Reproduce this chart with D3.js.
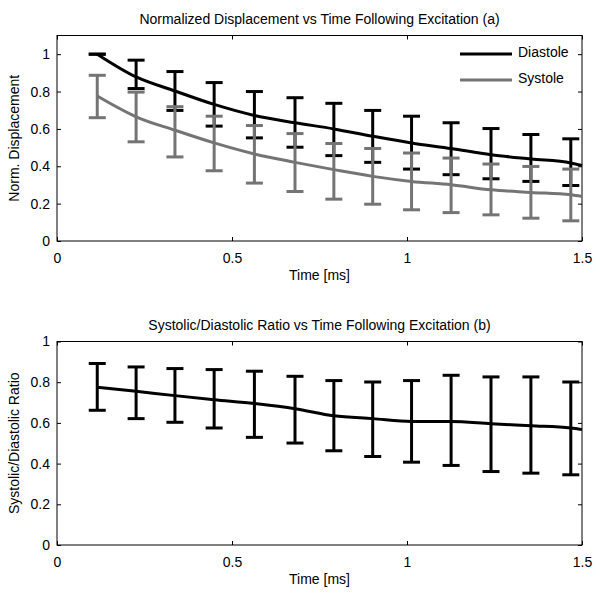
<!DOCTYPE html>
<html><head><meta charset="utf-8">
<script src="https://cdn.jsdelivr.net/npm/d3@7"></script>
<style>
body{margin:0;background:#fff;}
text{font-family:"Liberation Sans",Arial,sans-serif;}
</style></head>
<body><svg id="c" width="601" height="596"></svg>
<script>
// ---- data ----
const times = [0.115,0.226,0.337,0.449,0.564,0.68,0.791,0.902,1.013,1.126,1.24,1.354,1.468];
const curveTimes = [0.115,0.226,0.337,0.449,0.564,0.68,0.791,0.902,1.013,1.126,1.24,1.354,1.468,1.5];
const diastoleUpper = [1.0,0.968,0.907,0.848,0.8,0.767,0.737,0.699,0.668,0.633,0.602,0.570,0.547];
const diastoleLower = [1.0,0.816,0.699,0.615,0.552,0.502,0.457,0.421,0.385,0.355,0.333,0.319,0.297];
const diastoleCurve = [1.0,0.878,0.803,0.731,0.672,0.633,0.600,0.561,0.525,0.495,0.462,0.439,0.418,0.405];
const systoleUpper = [0.887,0.797,0.719,0.668,0.618,0.575,0.522,0.495,0.471,0.444,0.412,0.399,0.385];
const systoleLower = [0.660,0.531,0.45,0.376,0.31,0.265,0.224,0.197,0.167,0.152,0.14,0.122,0.108];
const systoleCurve = [0.776,0.665,0.593,0.525,0.466,0.421,0.382,0.346,0.319,0.301,0.274,0.26,0.247,0.238];
const ratioUpper = [0.892,0.875,0.867,0.862,0.854,0.829,0.808,0.801,0.808,0.834,0.826,0.826,0.801];
const ratioLower = [0.662,0.621,0.603,0.575,0.529,0.501,0.463,0.435,0.407,0.391,0.361,0.353,0.345];
const ratioCurve = [0.775,0.755,0.734,0.714,0.695,0.67,0.635,0.621,0.607,0.607,0.596,0.586,0.575,0.567];
const xTicks = [0,0.5,1,1.5];
const yTicks = [0,0.2,0.4,0.6,0.8,1];
const titles = ["Normalized Displacement vs Time Following Excitation (a)","Systolic/Diastolic Ratio vs Time Following Excitation (b)"];
const yLabels = ["Norm. Displacement","Systolic/Diastolic Ratio"];
const xLabel = "Time [ms]";
const legendNames = ["Diastole","Systole"];

const BLACK="#000", GRAY="#747474";
const FS = 14;
const svg = d3.select("#c");

function panel(top, bottom, ymax, title, ylabel, series, legend){
  const L=57, R=582;
  const x = d3.scaleLinear().domain([0,1.5]).range([L,R]);
  const y = d3.scaleLinear().domain([0,ymax]).range([bottom,top]);
  const g = svg.append("g");
  const fmt = d => d3.format("")(d);
  g.append("g").attr("transform",`translate(0,${bottom})`)
    .call(d3.axisBottom(x).tickValues(xTicks).tickSizeInner(-4).tickSizeOuter(0).tickPadding(12).tickFormat(fmt));
  g.append("g").attr("transform",`translate(0,${top})`)
    .call(d3.axisTop(x).tickValues(xTicks).tickSizeInner(-4).tickSizeOuter(0).tickFormat(""));
  g.append("g").attr("transform",`translate(${L},0)`)
    .call(d3.axisLeft(y).tickValues(yTicks).tickSizeInner(-4).tickSizeOuter(0).tickPadding(7).tickFormat(fmt));
  g.append("g").attr("transform",`translate(${R},0)`)
    .call(d3.axisRight(y).tickValues(yTicks).tickSizeInner(-4).tickSizeOuter(0).tickFormat(""));
  g.selectAll(".domain").remove();
  g.selectAll(".tick line").attr("stroke","#000");
  g.selectAll(".tick text").attr("font-size",FS).attr("fill","#000").attr("font-family",'"Liberation Sans",Arial,sans-serif');
  g.append("rect").attr("x",L).attr("y",top).attr("width",R-L).attr("height",bottom-top)
    .attr("fill","none").attr("stroke","#000").attr("stroke-width",1);
  g.append("text").attr("x",(L+R)/2).attr("y",top-12).attr("text-anchor","middle").attr("font-size",FS).text(title);
  g.append("text").attr("x",(L+R)/2).attr("y",bottom+39).attr("text-anchor","middle").attr("font-size",FS).text(xLabel);
  g.append("text").attr("transform",`translate(19,${(top+bottom)/2}) rotate(-90)`).attr("text-anchor","middle").attr("font-size",FS).text(ylabel);
  const line = d3.line().x(d=>x(d[0])).y(d=>y(d[1])).curve(d3.curveMonotoneX);
  const cw = 8.5;
  series.forEach(s=>{
    const eg = g.append("g").attr("stroke",s.color).attr("stroke-width",3).attr("fill","none");
    times.forEach((t,i)=>{
      eg.append("line").attr("x1",x(t)).attr("x2",x(t)).attr("y1",y(s.lower[i])).attr("y2",y(s.upper[i]));
      eg.append("line").attr("x1",x(t)-cw).attr("x2",x(t)+cw).attr("y1",y(s.lower[i])).attr("y2",y(s.lower[i]));
      eg.append("line").attr("x1",x(t)-cw).attr("x2",x(t)+cw).attr("y1",y(s.upper[i])).attr("y2",y(s.upper[i]));
    });
    g.append("path").datum(curveTimes.map((t,i)=>[t,s.curve[i]]))
      .attr("d",line).attr("fill","none").attr("stroke",s.color).attr("stroke-width",3);
  });
  if(legend){
    legend.forEach((n,i)=>{
      const ly = top+18.5+i*26;
      g.append("line").attr("x1",460).attr("x2",512).attr("y1",ly).attr("y2",ly)
        .attr("stroke",series[i].color).attr("stroke-width",3);
      g.append("text").attr("x",518).attr("y",ly+3).attr("font-size",FS).text(n);
    });
  }
}

panel(35.5, 241, 1.1, titles[0], yLabels[0], [
  {color:BLACK, upper:diastoleUpper, lower:diastoleLower, curve:diastoleCurve},
  {color:GRAY, upper:systoleUpper, lower:systoleLower, curve:systoleCurve}
], legendNames);
panel(341.5, 545, 1.0, titles[1], yLabels[1], [
  {color:BLACK, upper:ratioUpper, lower:ratioLower, curve:ratioCurve}
], null);
</script></body></html>
